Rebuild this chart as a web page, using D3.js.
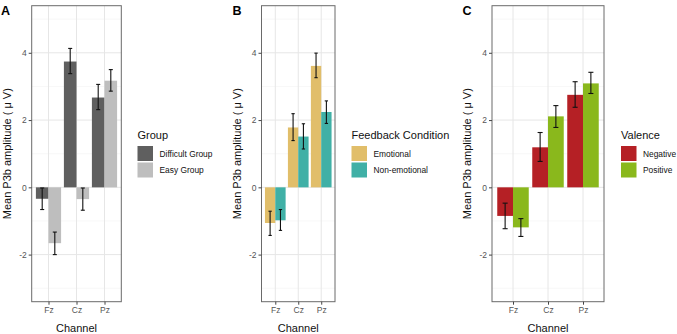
<!DOCTYPE html>
<html><head><meta charset="utf-8">
<script src="https://cdn.jsdelivr.net/npm/d3@7"></script>
<style>body{margin:0;background:#fff}svg{display:block}text{font-family:"Liberation Sans",Arial,sans-serif}</style>
</head><body>
<svg id="c" width="677" height="334"></svg>
<script>
const channels = ["Fz","Cz","Pz"];
const yTicks = [-2,0,2,4];
const yMinor = [-3,-1,1,3,5];

// Panel A
const groupNames = ["Difficult Group","Easy Group"];
const groupMean = [[-0.34,3.74,2.67],[-1.66,-0.35,3.17]];
const groupLo = [[-0.66,3.38,2.31],[-2.0,-0.68,2.86]];
const groupHi = [[-0.02,4.13,3.06],[-1.33,-0.02,3.5]];

// Panel B
const feedbackNames = ["Emotional","Non-emotional"];
const feedbackMean = [[-1.06,1.78,3.61],[-0.98,1.51,2.24]];
const feedbackLo = [[-1.43,1.39,3.26],[-1.28,1.14,1.9]];
const feedbackHi = [[-0.71,2.19,3.99],[-0.66,1.89,2.57]];

// Panel C
const valenceNames = ["Negative","Positive"];
const valenceMean = [[-0.85,1.19,2.75],[-1.19,2.11,3.09]];
const valenceLo = [[-1.23,0.77,2.38],[-1.46,1.78,2.79]];
const valenceHi = [[-0.47,1.63,3.14],[-0.93,2.43,3.42]];

const panels = [
  {letter:"A", title:"Group", names:groupNames, mean:groupMean, lo:groupLo, hi:groupHi,
   colors:["#5f5f5f","#bebebe"], x0:31.7, x1:121.3, legX:137.5, yTitleX:7, letterX:1},
  {letter:"B", title:"Feedback Condition", names:feedbackNames, mean:feedbackMean, lo:feedbackLo, hi:feedbackHi,
   colors:["#E1BE6A","#40B0A6"], x0:261.5, x1:335, legX:351.5, yTitleX:237, letterX:232.5},
  {letter:"C", title:"Valence", names:valenceNames, mean:valenceMean, lo:valenceLo, hi:valenceHi,
   colors:["#b52025","#8ab81c"], x0:492, x1:604, legX:621, yTitleX:467, letterX:462.5}
];

const svg = d3.select("#c");
const yTop = 5.7, yBot = 301.7;
const y = d3.scaleLinear().domain([-3.4,5.4]).range([yBot,yTop]);

panels.forEach(p => {
  const g = svg.append("g");
  const step = (p.x1-p.x0)/3.2;
  const xs = d3.scalePoint().domain(channels).range([p.x0+0.6*step, p.x1-0.6*step]);
  const bw = step*0.9/2;
  const xsub = d3.scaleBand().domain(p.names).range([-bw, bw]).padding(0);

  // grid
  g.selectAll(".mn").data(yMinor).join("line")
    .attr("x1",p.x0).attr("x2",p.x1).attr("y1",d=>y(d)).attr("y2",d=>y(d))
    .attr("stroke","#f2f2f2").attr("stroke-width",0.6);
  g.selectAll(".mj").data(yTicks).join("line")
    .attr("x1",p.x0).attr("x2",p.x1).attr("y1",d=>y(d)).attr("y2",d=>y(d))
    .attr("stroke","#e6e6e6").attr("stroke-width",1);
  g.selectAll(".vx").data(channels).join("line")
    .attr("x1",d=>xs(d)).attr("x2",d=>xs(d)).attr("y1",yTop).attr("y2",yBot)
    .attr("stroke","#e6e6e6").attr("stroke-width",1);

  // bars
  p.names.forEach((nm,si) => {
    g.selectAll(null).data(channels).join("rect")
      .attr("x",c=>xs(c)+xsub(nm))
      .attr("width",xsub.bandwidth())
      .attr("y",(c,i)=>y(Math.max(0,p.mean[si][i])))
      .attr("height",(c,i)=>Math.abs(y(p.mean[si][i])-y(0)))
      .attr("fill",p.colors[si]);
  });
  // error bars
  p.names.forEach((nm,si) => {
    const cap = xsub.bandwidth()*0.16;
    channels.forEach((c,i) => {
      const mx = xs(c)+xsub(nm)+xsub.bandwidth()/2;
      const eg = g.append("g").attr("stroke","#111").attr("stroke-width",1.1);
      eg.append("line").attr("x1",mx).attr("x2",mx).attr("y1",y(p.lo[si][i])).attr("y2",y(p.hi[si][i]));
      eg.append("line").attr("x1",mx-cap).attr("x2",mx+cap).attr("y1",y(p.lo[si][i])).attr("y2",y(p.lo[si][i]));
      eg.append("line").attr("x1",mx-cap).attr("x2",mx+cap).attr("y1",y(p.hi[si][i])).attr("y2",y(p.hi[si][i]));
    });
  });

  // border
  g.append("rect").attr("x",p.x0).attr("y",yTop).attr("width",p.x1-p.x0).attr("height",yBot-yTop)
    .attr("fill","none").attr("stroke","#6a6a6a").attr("stroke-width",1);

  // axes
  const ya = g.append("g").attr("transform",`translate(${p.x0},0)`)
    .call(d3.axisLeft(y).tickValues(yTicks).tickSize(3).tickPadding(2).tickFormat(d=>String(d)));
  ya.select(".domain").remove();
  ya.selectAll("line").attr("stroke","#444");
  ya.selectAll("text").attr("fill","#555").style("font-size","8.5px");
  const xa = g.append("g").attr("transform",`translate(0,${yBot})`)
    .call(d3.axisBottom(xs).tickSize(3).tickPadding(2));
  xa.select(".domain").remove();
  xa.selectAll("line").attr("stroke","#444");
  xa.selectAll("text").attr("fill","#555").style("font-size","8.5px");

  // titles
  g.append("text").attr("x",(p.x0+p.x1)/2).attr("y",331.5).attr("text-anchor","middle")
    .style("font-size","11px").attr("fill","#111").text("Channel");
  g.append("text").attr("transform",`translate(${p.yTitleX},${(yTop+yBot)/2}) rotate(-90)`)
    .attr("text-anchor","middle").attr("dominant-baseline","central")
    .style("font-size","11px").attr("fill","#111").text("Mean P3b amplitude ( \u03bc V)");
  g.append("text").attr("x",p.letterX).attr("y",15).style("font-size","12.5px").style("font-weight","bold")
    .attr("fill","#000").text(p.letter);

  // legend
  g.append("text").attr("x",p.legX).attr("y",139).style("font-size","11px").attr("fill","#111").text(p.title);
  p.names.forEach((nm,si) => {
    const ky = 146 + si*16.5;
    g.append("rect").attr("x",p.legX).attr("y",ky).attr("width",15.5).attr("height",15)
      .attr("fill",p.colors[si]);
    g.append("text").attr("x",p.legX+22).attr("y",ky+7.5).attr("dominant-baseline","central")
      .style("font-size","8.4px").attr("fill","#111").text(nm);
  });
});
</script>
</body></html>
